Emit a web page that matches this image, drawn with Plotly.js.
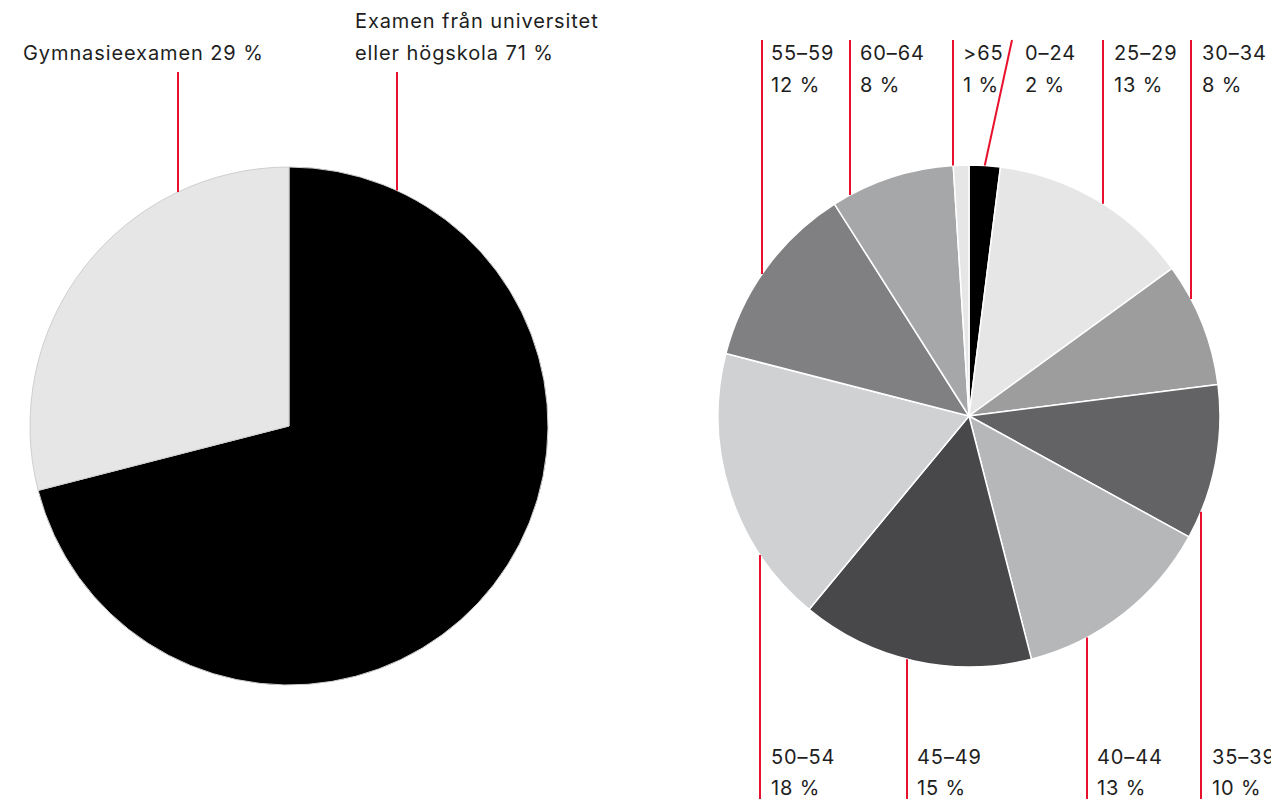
<!DOCTYPE html>
<html>
<head>
<meta charset="utf-8">
<script src="https://cdn.plot.ly/plotly-3.0.1.min.js"></script>
<style>
html,body{margin:0;padding:0;background:#fff;}
#chart{width:1271px;height:799px;}
#chart .annotation-text{letter-spacing:0.9px;}
</style>
</head>
<body>
<div id="chart"></div>
<script>
// ---- Data ----
const eduLabels = ["Examen från universitet eller högskola", "Gymnasieexamen"];
const eduValues = [71, 29];
const eduColors = ["#000000", "#e6e6e6"];

const ageLabels = ["0–24", "25–29", "30–34", "35–39", "40–44", "45–49", "50–54", "55–59", "60–64", ">65"];
const ageValues = [2, 13, 8, 10, 13, 15, 18, 12, 8, 1];
const ageColors = ["#000000", "#e6e6e6", "#9d9d9e", "#636365", "#b6b7b8", "#48484a", "#d0d1d3", "#808082", "#a6a7a8", "#e6e6e6"];

// ---- Layout geometry (pixels) ----
const W = 1271, H = 799;
const leftPie = {cx: 289, cy: 426, r: 259};
const rightPie = {cx: 969, cy: 416, r: 251};
const RED = "#e8112d";
const TXT = "#1e1e1e";
const FONT = "Inter, 'Open Sans', sans-serif";
const FS = 20;

function px(x){ return x / W; }
function py(y){ return 1 - y / H; }
function dom(p){ return {x:[px(p.cx-p.r), px(p.cx+p.r)], y:[py(p.cy+p.r), py(p.cy-p.r)]}; }

const traces = [
  {type:"pie", values: eduValues, labels: eduLabels, sort:false, direction:"clockwise", rotation:0,
   marker:{colors: eduColors, line:{color:"#cfcfcf", width:1}}, textinfo:"none", hoverinfo:"none",
   showlegend:false, domain: dom(leftPie)},
  {type:"pie", values: ageValues, labels: ageLabels, sort:false, direction:"clockwise", rotation:0,
   marker:{colors: ageColors, line:{color:"#ffffff", width:1.5}}, textinfo:"none", hoverinfo:"none",
   showlegend:false, domain: dom(rightPie)}
];

const shapes = [];
const annotations = [];
function line(x0,y0,x1,y1){
  shapes.push({type:"line", xref:"paper", yref:"paper", x0:px(x0), y0:py(y0), x1:px(x1), y1:py(y1),
    line:{color:RED, width:2}});
}
function text(t, x, y){
  annotations.push({text:t, xref:"paper", yref:"paper", x:px(x), y:py(y), xanchor:"left", yanchor:"middle",
    align:"left", borderpad:0, showarrow:false, font:{family:FONT, size:FS, color:TXT}});
}
function edgeY(p, x, top){ const d = Math.sqrt(Math.max(0, p.r*p.r - (x-p.cx)*(x-p.cx))); return top ? p.cy - d : p.cy + d; }

// Left pie labels
const eduCols = [{lineX:397, textX:354}, {lineX:178, textX:22}];
line(eduCols[0].lineX, 72, eduCols[0].lineX, edgeY(leftPie, eduCols[0].lineX, true));
text("Examen från universitet", eduCols[0].textX, 21);
text("eller högskola " + eduValues[0] + " %", eduCols[0].textX, 53);
line(eduCols[1].lineX, 72, eduCols[1].lineX, edgeY(leftPie, eduCols[1].lineX, true));
text(eduLabels[1] + " " + eduValues[1] + " %", eduCols[1].textX, 53);

// Right pie labels: column x of leader line, top or bottom
const ageCols = {
  "0–24":  {lineX:null, textX:1024, top:true},
  "25–29": {lineX:1103, textX:1113, top:true},
  "30–34": {lineX:1191, textX:1201, top:true},
  "35–39": {lineX:1201, textX:1211, top:false},
  "40–44": {lineX:1087, textX:1096, top:false},
  "45–49": {lineX:907,  textX:916,  top:false},
  "50–54": {lineX:760,  textX:770,  top:false},
  "55–59": {lineX:762,  textX:770,  top:true},
  "60–64": {lineX:850,  textX:859,  top:true},
  ">65":   {lineX:953,  textX:962,  top:true}
};
const ageTotal = ageValues.reduce((a,b)=>a+b,0);
let cum = 0;
ageLabels.forEach((lab, i) => {
  const c = ageCols[lab];
  const mid = (cum + ageValues[i]/2) / ageTotal * 2*Math.PI;
  cum += ageValues[i];
  if (c.lineX === null) {
    const ex = rightPie.cx + rightPie.r*Math.sin(mid), ey = rightPie.cy - rightPie.r*Math.cos(mid);
    line(1012, 40, ex, ey);
  } else if (c.top) {
    line(c.lineX, 40, c.lineX, edgeY(rightPie, c.lineX, true));
  } else {
    line(c.lineX, edgeY(rightPie, c.lineX, false), c.lineX, 799);
  }
  const y1 = c.top ? 53 : 757, y2 = c.top ? 85 : 788;
  text(lab, c.textX, y1);
  text(ageValues[i] + " %", c.textX, y2);
});

const layout = {
  width: W, height: H, margin:{l:0,r:0,t:0,b:0}, paper_bgcolor:"#ffffff", plot_bgcolor:"#ffffff",
  showlegend:false, shapes: shapes, annotations: annotations, font:{family:FONT}
};
Plotly.newPlot("chart", traces, layout, {displayModeBar:false, staticPlot:true});
</script>
</body>
</html>
